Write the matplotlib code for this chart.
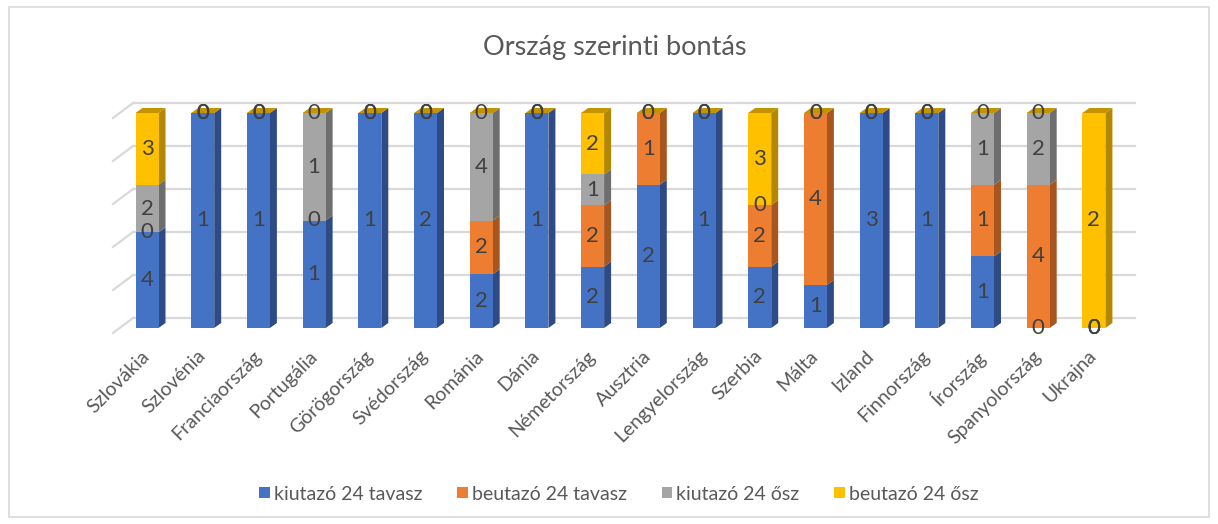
import numpy as np
import matplotlib.pyplot as plt
from matplotlib.patches import Polygon, Rectangle

plt.rcParams['font.family'] = ['Lato', 'DejaVu Sans']

countries = ['Szlovákia', 'Szlovénia', 'Franciaország', 'Portugália', 'Görögország',
             'Svédország', 'Románia', 'Dánia', 'Németország', 'Ausztria',
             'Lengyelország', 'Szerbia', 'Málta', 'Izland', 'Finnország',
             'Írország', 'Spanyolország', 'Ukrajna']
series_names = ['kiutazó 24 tavasz', 'beutazó 24 tavasz', 'kiutazó 24 ősz', 'beutazó 24 ősz']

kiutazo_tavasz = [4, 1, 1, 1, 1, 2, 2, 1, 2, 2, 1, 2, 1, 3, 1, 1, 0, 0]
beutazo_tavasz = [0, 0, 0, 0, 0, 0, 2, 0, 2, 1, 0, 2, 4, 0, 0, 1, 4, 0]
kiutazo_osz = [2, 0, 0, 1, 0, 0, 4, 0, 1, 0, 0, 0, 0, 0, 0, 1, 2, 0]
beutazo_osz = [3, 0, 0, 0, 0, 0, 0, 0, 2, 0, 0, 3, 0, 0, 0, 0, 0, 2]

front_colors = ['#4472C4', '#ED7D31', '#A5A5A5', '#FFC000']
side_colors = ['#2F4B85', '#A85620', '#6E6E6E', '#B38700']
top_color = '#C49300'

W, H = 1218, 524
fig = plt.figure(figsize=(W / 100, H / 100), dpi=100)

# axes placement in pixels, category step ~55.7 px, 215 px for 100%
px_left, px_right, px_top, px_bot = 60, 1180, 80, 345
x0px, step = 147, 55.7
y0px, hpx = 328, 215
ax = fig.add_axes([px_left / W, 1 - px_bot / H, (px_right - px_left) / W, (px_bot - px_top) / H])
ax.set_xlim((px_left - x0px) / step, (px_right - x0px) / step)
ax.set_ylim((y0px - px_bot) / hpx, (y0px - px_top) / hpx)
for s in ax.spines.values():
    s.set_visible(False)
ax.set_yticks([])

data = np.array([kiutazo_tavasz, beutazo_tavasz, kiutazo_osz, beutazo_osz], dtype=float)
totals = data.sum(axis=0)
frac = data / totals

# back wall gridlines with 3D-ish perspective
wall_dy = 10 / hpx
wall_x0 = (133 - x0px) / step
wall_x1 = (1135 - x0px) / step
diag_x = (113 - x0px) / step
diag_dy = -5 / hpx
grid_c = '#D9D9D9'
for g in np.linspace(0, 1, 6):
    ax.plot([wall_x0, wall_x1], [g + wall_dy, g + wall_dy], color=grid_c, lw=1.6, zorder=1)
    ax.plot([diag_x, wall_x0], [g + diag_dy, g + wall_dy], color=grid_c, lw=1.6, zorder=1)

# bars
bw = 23 / step
dx = 7 / step
dy = 5 / hpx
x = np.arange(len(countries))
bottom = np.zeros(len(countries))
for k in range(4):
    h = frac[k]
    ax.bar(x, h, bw, bottom=bottom, color=front_colors[k], zorder=3, linewidth=0)
    for i in range(len(countries)):
        y0, y1 = bottom[i], bottom[i] + h[i]
        xr = x[i] + bw / 2
        if h[i] > 0:
            ax.add_patch(Polygon([(xr, y0), (xr + dx, y0 + dy), (xr + dx, y1 + dy), (xr, y1)],
                                 closed=True, fc=side_colors[k], ec='none', zorder=2.9))
        ax.text(x[i], y0 + h[i] / 2, f'{int(data[k, i])}', ha='center', va='center',
                fontsize=16, color='#404040', zorder=5)
    bottom += h

for i in range(len(countries)):
    xl, xr = x[i] - bw / 2, x[i] + bw / 2
    ax.add_patch(Polygon([(xl, 1), (xl + dx, 1 + dy), (xr + dx, 1 + dy), (xr, 1)],
                         closed=True, fc=top_color, ec='none', zorder=2.9))

ax.set_xticks(x)
ax.set_xticklabels(countries, rotation=45, ha='right', va='center', rotation_mode='anchor',
                   fontsize=14, color='#595959')
ax.tick_params(axis='x', length=0, pad=6)

fig.text(0.505, 1 - 48 / H, 'Ország szerinti bontás', ha='center', va='center',
         fontsize=19.5, color='#595959')

handles = [Rectangle((0, 0), 1, 1, fc=c, ec='none') for c in front_colors]
fig.legend(handles, series_names, loc='center', bbox_to_anchor=(0.508, 1 - 494 / H), ncol=4,
           frameon=False, fontsize=14, labelcolor='#595959', handlelength=0.55,
           handleheight=0.55, handletextpad=0.2, columnspacing=1.8)

fig.patches.append(Rectangle((9 / W, 1 - 517 / H), 1200 / W, 510 / H, transform=fig.transFigure,
                             fill=False, ec='#D9D9D9', lw=1.2))

fig.savefig('out.png', dpi=100)
